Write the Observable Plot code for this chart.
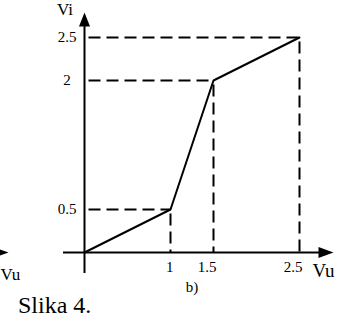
<!DOCTYPE html>
<html><head><meta charset="utf-8">
<script src="https://cdn.jsdelivr.net/npm/d3@7"></script>
<script src="https://cdn.jsdelivr.net/npm/@observablehq/plot@0.6"></script>
<style>
html,body{margin:0;padding:0;background:#fff;}
#wrap{position:relative;width:347px;height:322px;overflow:hidden;}
#chart svg{overflow:visible;}
#chart svg text{font-family:"Liberation Serif","Times New Roman",Times,"DejaVu Serif",serif;}
#cap{position:absolute;left:18px;top:293px;font-family:"Liberation Serif","Times New Roman",Times,"DejaVu Serif",serif;font-size:24px;line-height:24px;color:#000;white-space:pre;}
</style></head><body><div id="wrap"><div id="chart"></div><div id="cap"></div></div>
<script>
// Data
const vu = [0, 1, 1.5, 2.5];
const vi = [0, 0.5, 2, 2.5];
const xTicks = [1, 1.5, 2.5];
const xTickLabels = ["1", "1.5", "2.5"];
const yTicks = [0.5, 2, 2.5];
const yTickLabels = ["0.5", "2", "2.5"];
const xAxisName = "Vu";
const yAxisName = "Vi";
const panelLabel = "b)";
const captionText = "Slika 4.";
// axis extents in data units: [start, line end, arrow tip]
const xAxisExtent = [-0.244, 2.74, 2.895];
const yAxisExtent = [-0.244, 2.64, 2.79];

const points = vu.map((x, i) => ({x, y: vi[i]}));
const guides = points.filter(d => d.x > 0);

const serif = '"Liberation Serif", "Times New Roman", Times, "DejaVu Serif", serif';
const arrowRight = {draw(ctx) { ctx.moveTo(7.5, 0); ctx.lineTo(-7.5, -5.5); ctx.lineTo(-7.5, 5.5); ctx.closePath(); }};
const arrowUp = {draw(ctx) { ctx.moveTo(0, -7); ctx.lineTo(-5.5, 7); ctx.lineTo(5.5, 7); ctx.closePath(); }};
const dash = {stroke: "black", strokeWidth: 2, strokeDasharray: "12,6", strokeDashoffset: 14};
const ink = {stroke: "black", strokeWidth: 2};

const chart = Plot.plot({
  width: 347, height: 322,
  marginLeft: 84, marginRight: 48, marginTop: 37, marginBottom: 70,
  x: {domain: [0, 2.5], axis: null},
  y: {domain: [0, 2.5], axis: null},
  style: {fontFamily: serif, fontSize: "15px", background: "white", color: "black"},
  marks: [
    Plot.link(guides, {x1: 0, x2: "x", y1: "y", y2: "y", ...dash}),
    Plot.link(guides, {x1: "x", x2: "x", y1: "y", y2: 0, ...dash}),
    Plot.ruleY([0], {x1: xAxisExtent[0], x2: xAxisExtent[1], ...ink}),
    Plot.ruleX([0], {y1: yAxisExtent[0], y2: yAxisExtent[1], ...ink}),
    Plot.dot([xAxisExtent[2]], {x: d => d, y: 0, dx: -7.5, symbol: arrowRight, fill: "black", stroke: "none"}),
    Plot.dot([yAxisExtent[2]], {x: 0, y: d => d, dy: 7, symbol: arrowUp, fill: "black", stroke: "none"}),
    Plot.dot([null], {frameAnchor: "bottom-left", dx: -83.5, symbol: arrowRight, fill: "black", stroke: "none"}),
    Plot.line(points, {x: "x", y: "y", ...ink, strokeLinejoin: "miter"}),
    Plot.text(yTicks, {x: 0, y: d => d, text: (d, i) => yTickLabels[i], dx: -17.5, textAnchor: "middle", lineAnchor: "middle", fontSize: 15, fontFamily: serif, fill: "black"}),
    Plot.text(xTicks, {x: d => d, y: 0, text: (d, i) => xTickLabels[i], dx: 3, dy: 9, textAnchor: "end", lineAnchor: "top", fontSize: 15, fontFamily: serif, fill: "black"}),
    Plot.text([yAxisName], {x: 0, y: yAxisExtent[2], text: d => d, dx: -19.5, dy: -3, textAnchor: "middle", lineAnchor: "middle", fontSize: 17, fontFamily: serif, fill: "black"}),
    Plot.text([xAxisName], {frameAnchor: "bottom-right", text: d => d, dx: 13, dy: 11, textAnchor: "start", lineAnchor: "top", fontSize: 19, fontFamily: serif, fill: "black"}),
    Plot.text([xAxisName], {frameAnchor: "bottom-left", text: d => d, dx: -84, dy: 15, textAnchor: "start", lineAnchor: "top", fontSize: 17, fontFamily: serif, fill: "black"}),
    Plot.text([panelLabel], {frameAnchor: "bottom", text: d => d, dy: 29, textAnchor: "middle", lineAnchor: "top", fontSize: 15, fontFamily: serif, fill: "black"})
  ]
});
document.getElementById("chart").append(chart);
document.getElementById("cap").textContent = captionText;
</script></body></html>
